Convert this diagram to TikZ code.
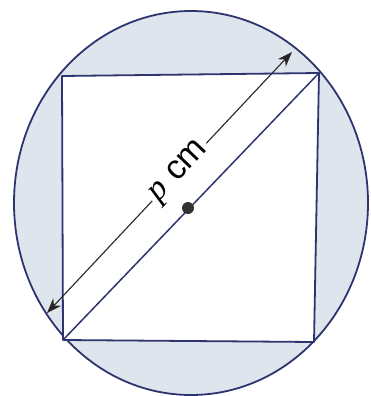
\documentclass[tikz,border=0pt]{standalone}
\usepackage{fontspec}
\setsansfont{Liberation Sans}
\newfontfamily\pfont{Liberation Serif}
\usetikzlibrary{arrows.meta}
\definecolor{navy}{HTML}{2E3470}
\definecolor{bgfill}{HTML}{DFE5ED}
\begin{document}
\begin{tikzpicture}[x=1pt,y=-1pt,
  edge/.style={draw=navy,line width=1.8pt,line join=round},
  dim/.style={draw=black!85,line width=1.1pt,{Stealth[length=15pt,width=11pt]}-{Stealth[length=15pt,width=11pt]}},
  lbl/.style={fill=white,inner sep=3pt,font=\fontsize{34}{38}\selectfont}]
\useasboundingbox (0,0) rectangle (370,396);
\coordinate (O) at (191,203);
\coordinate (TL) at (62,76);
\coordinate (TR) at (319,73);
\coordinate (BR) at (314,342);
\coordinate (BL) at (63,340);
\coordinate (A1) at (47,313);
\coordinate (A2) at (292,52);
\fill[bgfill] (O) ellipse [x radius=177, y radius=192];
\draw[edge] (O) ellipse [x radius=177, y radius=192];
\fill[white] (TL) -- (TR) -- (BR) -- (BL) -- cycle;
\draw[edge] (TL) -- (TR) -- (BR) -- (BL) -- cycle;
\draw[edge,line width=1.5pt] (BL) -- (TR);
\fill[black!80] (188,208) circle (6);
\draw[dim] (A1) -- node[lbl,pos=0.54,rotate=46.6] (L) {{\pfont\itshape p} \sffamily cm} (A2);
\end{tikzpicture}
\end{document}
